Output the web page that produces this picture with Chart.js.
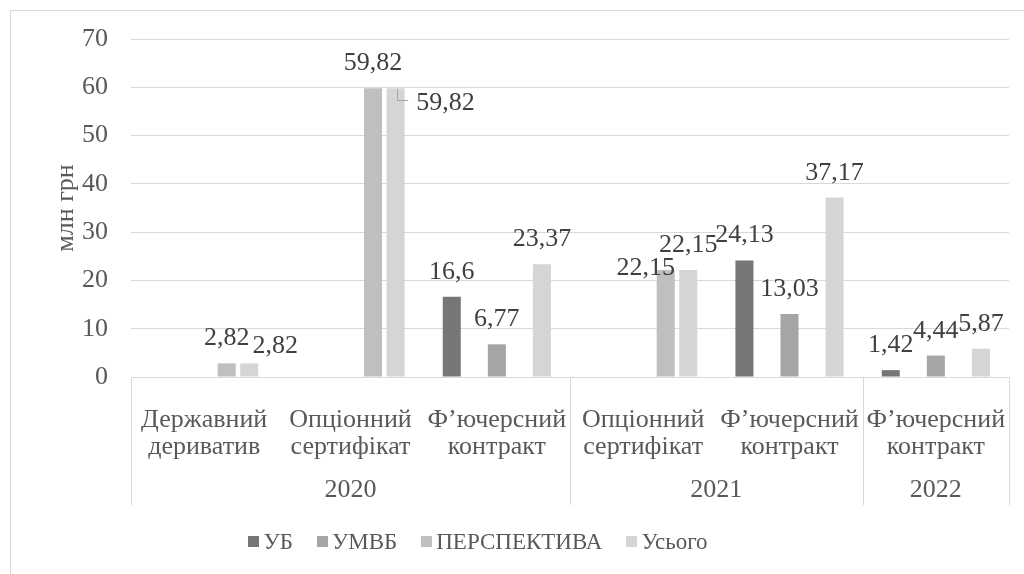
<!DOCTYPE html>
<html>
<head>
<meta charset="utf-8">
<title>Деривативи</title>
<script src="https://cdn.jsdelivr.net/npm/chart.js@4.4.1/dist/chart.umd.min.js"></script>
<style>
  html, body { margin: 0; padding: 0; background: #fff; }
  #wrap { width: 1024px; height: 574px; }
</style>
</head>
<body>
<div id="wrap"><canvas id="chart" width="1024" height="574"></canvas></div>
<script>
// categories (two-line labels) and the year each belongs to
const categories = [
  ['Державний', 'дериватив'],
  ['Опціонний', 'сертифікат'],
  ['Ф’ючерсний', 'контракт'],
  ['Опціонний', 'сертифікат'],
  ['Ф’ючерсний', 'контракт'],
  ['Ф’ючерсний', 'контракт']
];
const years = ['2020', '2020', '2020', '2021', '2021', '2022'];

// series, млн грн
const ub = [null, null, 16.6, null, 24.13, 1.42];
const umvb = [null, null, 6.77, null, 13.03, 4.44];
const perspektyva = [2.82, 59.82, null, 22.15, null, null];
const total = [2.82, 59.82, 23.37, 22.15, 37.17, 5.87];

const yMin = 0, yMax = 70, yStep = 10;

const FONT = '"Liberation Serif", "Times New Roman", serif';
const textColor = '#595959';
const gridColor = '#d9d9d9';

// labels that were dragged away from their bars in the original
const labelShift = { '4:0': [26, 8], '4:1': [50, 40], '3:3': [-20, 23] };
const withLeader = ['4:1'];

const frame = {
  id: 'frame',
  beforeDraw(chart) {
    const ctx = chart.ctx;
    ctx.save();
    ctx.fillStyle = '#fff';
    ctx.fillRect(0, 0, chart.width, chart.height);
    ctx.strokeStyle = gridColor;
    ctx.lineWidth = 1;
    ctx.strokeRect(10.5, 10.5, chart.width + 50, chart.height + 50);
    ctx.restore();
  }
};

const yearGroups = {
  id: 'yearGroups',
  afterDraw(chart) {
    const x = chart.scales.x;
    const ctx = chart.ctx;
    const top = x.top, bottom = x.bottom;
    const edge = (i) => {
      if (i <= 0) return chart.chartArea.left;
      if (i >= years.length) return chart.chartArea.right;
      return (x.getPixelForValue(i - 1) + x.getPixelForValue(i)) / 2;
    };
    ctx.save();
    ctx.strokeStyle = gridColor;
    ctx.lineWidth = 1;
    ctx.font = '26px ' + FONT;
    ctx.fillStyle = textColor;
    ctx.textAlign = 'center';
    ctx.textBaseline = 'alphabetic';
    let start = 0;
    for (let i = 1; i <= years.length; i++) {
      if (i === years.length || years[i] !== years[start]) {
        const a = edge(start), b = edge(i);
        ctx.fillText(years[start], (a + b) / 2, 497);
        start = i;
      }
    }
    const cuts = [0];
    for (let i = 1; i < years.length; i++) if (years[i] !== years[i - 1]) cuts.push(i);
    cuts.push(years.length);
    cuts.forEach(i => {
      const px = Math.round(edge(i)) + 0.5;
      ctx.beginPath();
      ctx.moveTo(px, top);
      ctx.lineTo(px, bottom);
      ctx.stroke();
    });
    ctx.restore();
  }
};

const valueLabels = {
  id: 'valueLabels',
  afterDatasetsDraw(chart) {
    const ctx = chart.ctx;
    ctx.save();
    ctx.font = '26px ' + FONT;
    ctx.textAlign = 'center';
    ctx.textBaseline = 'alphabetic';
    chart.data.datasets.forEach((ds, di) => {
      if (ds.spacer) return;
      chart.getDatasetMeta(di).data.forEach((bar, i) => {
        const v = ds.data[i];
        if (v == null) return;
        const txt = String(v).replace('.', ',');
        const key = di + ':' + i;
        const [dx, dy] = labelShift[key] || [0, 0];
        const lx = bar.x + dx, ly = bar.y - 18 + dy;
        if (withLeader.includes(key)) {
          const w = ctx.measureText(txt).width;
          ctx.strokeStyle = '#a6a6a6';
          ctx.lineWidth = 1;
          ctx.beginPath();
          ctx.moveTo(Math.round(bar.x) + 1.5, bar.y + 1);
          ctx.lineTo(Math.round(bar.x) + 1.5, Math.round(ly - 10) + 0.5);
          ctx.lineTo(lx - w / 2 - 8, Math.round(ly - 10) + 0.5);
          ctx.stroke();
        }
        ctx.fillStyle = '#404040';
        ctx.fillText(txt, lx, ly);
      });
    });
    ctx.restore();
  }
};

const bottomLegend = {
  id: 'bottomLegend',
  afterDraw(chart) {
    const ctx = chart.ctx;
    const items = chart.data.datasets.filter(d => !d.spacer);
    const box = 11, gapBox = 4, gapItem = 24, cx = 478, cy = 542;
    ctx.save();
    ctx.font = '23px ' + FONT;
    const widths = items.map(d => box + gapBox + ctx.measureText(d.label).width);
    const full = widths.reduce((a, b) => a + b, 0) + gapItem * (items.length - 1);
    let x = cx - full / 2;
    ctx.textBaseline = 'middle';
    ctx.textAlign = 'left';
    items.forEach((d, k) => {
      ctx.fillStyle = d.backgroundColor;
      ctx.fillRect(Math.round(x), cy - 6, box, box);
      ctx.fillStyle = textColor;
      ctx.fillText(d.label, x + box + gapBox, cy + 1);
      x += widths[k] + gapItem;
    });
    ctx.restore();
  }
};

const bar = (label, data, color) => ({
  label, data, backgroundColor: color,
  categoryPercentage: 0.77, barPercentage: 0.8
});

function draw() {
  new Chart(document.getElementById('chart').getContext('2d'), {
    type: 'bar',
    data: {
      labels: categories,
      datasets: [
        bar('УБ', ub, '#767676'),
        Object.assign(bar('', categories.map(() => null), 'rgba(0,0,0,0)'), { spacer: true }),
        bar('УМВБ', umvb, '#a5a5a5'),
        bar('ПЕРСПЕКТИВА', perspektyva, '#bfbfbf'),
        bar('Усього', total, '#d5d5d5')
      ]
    },
    options: {
      responsive: false,
      animation: false,
      devicePixelRatio: 1,
      layout: { padding: { left: 10, top: 39, right: 15, bottom: 69 } },
      plugins: { legend: { display: false }, tooltip: { enabled: false } },
      scales: {
        x: {
          grid: { display: false },
          border: { display: true, color: gridColor },
          ticks: {
            font: { family: FONT, size: 26, lineHeight: '27.6px' },
            color: textColor, padding: 21, maxRotation: 0, autoSkip: false
          },
          afterFit(scale) {
            scale.height = 128;
            scale.paddingLeft = 0;
            scale.paddingRight = 0;
          }
        },
        y: {
          min: yMin, max: yMax,
          grid: { color: gridColor, drawTicks: false },
          border: { display: false },
          ticks: {
            stepSize: yStep, padding: 23,
            font: { family: FONT, size: 26 }, color: textColor
          },
          title: {
            display: true, text: 'млн грн', color: textColor,
            font: { family: FONT, size: 26, lineHeight: 1.2 },
            padding: { top: 41, bottom: 0 }
          },
          afterFit(scale) {
            scale.width = 121;
            scale.paddingTop = 0;
            scale.paddingBottom = 0;
          }
        }
      }
    },
    plugins: [frame, yearGroups, valueLabels, bottomLegend]
  });
}

if (document.fonts && document.fonts.load) {
  document.fonts.load('26px "Liberation Serif"', 'Державний 2020').then(draw, draw);
} else {
  draw();
}
</script>
</body>
</html>
